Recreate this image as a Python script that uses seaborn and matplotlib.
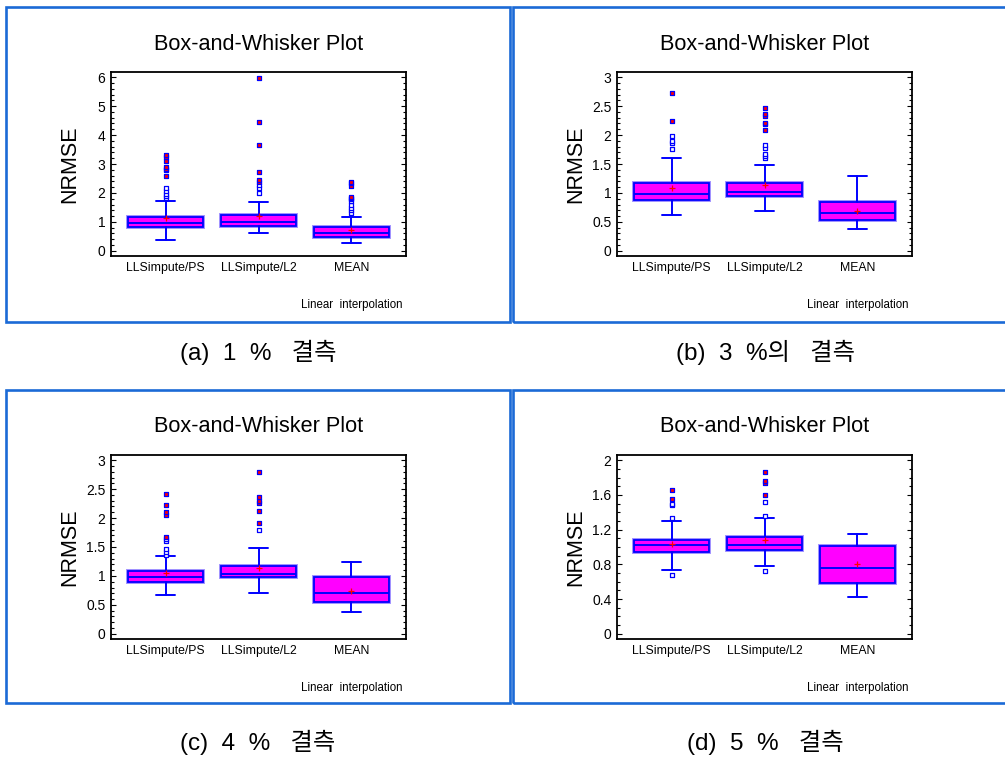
import pandas as pd
import matplotlib.pyplot as plt
import matplotlib.patheffects as pe
from matplotlib.patches import Rectangle
from matplotlib.ticker import MultipleLocator, AutoMinorLocator, FormatStrFormatter
import seaborn as sns

methods = ["LLSimpute/PS", "LLSimpute/L2", "MEAN"]
captions = ["(a)  1  %   결측", "(b)  3  %의   결측", "(c)  4  %   결측", "(d)  5  %   결측"]

# (a) 1 % missing
lo_1 = [0.39, 0.61, 0.27]
q1_1 = [0.81, 0.87, 0.46]
med_1 = [0.95, 0.99, 0.61]
q3_1 = [1.18, 1.25, 0.81]
hi_1 = [1.73, 1.70, 1.16]
mean_1 = [1.13, 1.21, 0.72]
out_1 = [[1.82, 1.90, 1.98, 2.07, 2.16], [2.00, 2.18, 2.27], [1.32, 1.41, 1.49, 1.57, 1.71]]
far_1 = [[2.57, 2.78, 2.84, 2.91, 3.09, 3.25, 3.32], [2.39, 2.45, 2.72, 3.66, 4.46, 5.98],
         [1.79, 1.82, 1.87, 2.24, 2.34, 2.38]]

# (b) 3 % missing
lo_3 = [0.61, 0.69, 0.37]
q1_3 = [0.87, 0.95, 0.54]
med_3 = [0.99, 1.02, 0.65]
q3_3 = [1.18, 1.18, 0.85]
hi_3 = [1.60, 1.48, 1.30]
mean_3 = [1.08, 1.13, 0.69]
out_3 = [[1.76, 1.86, 1.90, 1.99], [1.60, 1.63, 1.68, 1.77, 1.82], []]
far_3 = [[2.24, 2.73], [2.08, 2.19, 2.20, 2.33, 2.36, 2.47], []]

# (c) 4 % missing
lo_4 = [0.675, 0.70, 0.375]
q1_4 = [0.89, 0.975, 0.55]
med_4 = [0.98, 1.03, 0.70]
q3_4 = [1.08, 1.18, 0.975]
hi_4 = [1.34, 1.48, 1.24]
mean_4 = [1.05, 1.14, 0.74]
out_4 = [[1.37, 1.41, 1.47, 1.60, 1.64], [1.79], []]
far_4 = [[1.68, 2.06, 2.11, 2.23, 2.42], [1.92, 2.13, 2.26, 2.30, 2.37, 2.79], []]

# (d) 5 % missing
lo_5 = [0.74, 0.78, 0.42]
q1_5 = [0.94, 0.967, 0.583]
med_5 = [1.02, 1.02, 0.756]
q3_5 = [1.086, 1.117, 1.017]
hi_5 = [1.305, 1.33, 1.148]
mean_5 = [1.04, 1.075, 0.80]
out_5 = [[0.68, 1.33, 1.48, 1.50], [0.725, 1.355, 1.52], []]
far_5 = [[1.55, 1.66], [1.60, 1.735, 1.755, 1.86], []]

y_max = [6, 3, 3, 2]
y_step = [1, 0.5, 0.5, 0.4]
y_minor = [5, 5, 5, 4]

panels = [
    (lo_1, q1_1, med_1, q3_1, hi_1, mean_1, out_1, far_1),
    (lo_3, q1_3, med_3, q3_3, hi_3, mean_3, out_3, far_3),
    (lo_4, q1_4, med_4, q3_4, hi_4, mean_4, out_4, far_4),
    (lo_5, q1_5, med_5, q3_5, hi_5, mean_5, out_5, far_5),
]

sns.set_theme(style="ticks")
plt.rcParams['font.family'] = ['Liberation Sans', 'Noto Sans CJK KR']
for key in ['text.color', 'axes.labelcolor', 'xtick.color', 'ytick.color', 'axes.edgecolor']:
    plt.rcParams[key] = 'black'

W, H = 1005, 758
fig = plt.figure(figsize=(W / 100, H / 100), dpi=100)
fig.patch.set_facecolor('white')

BLUE = '#0000ff'
FRAME = '#1b6ad6'

# panel geometry in pixels: (frame x0, frame y0, frame x1, frame y1, axes left, axes top, caption gap)
geo = [
    (6, 7, 510, 322, 111, 72, 30),
    (513, 7, 1012, 322, 617, 72, 30),
    (6, 390, 510, 703, 111, 455, 39),
    (513, 390, 1012, 703, 617, 455, 39),
]
AX_W, AX_H = 295, 184


def outlier_frame(groups):
    rows = [(i, v) for i, vals in enumerate(groups) for v in vals]
    return pd.DataFrame(rows, columns=['pos', 'value'])


for k, (lo, q1, med, q3, hi, mean, out, far) in enumerate(panels):
    fx0, fy0, fx1, fy1, axl, axt, gap = geo[k]

    # blue frame around each panel
    fig.patches.append(Rectangle((fx0 / W, 1 - fy1 / H), (fx1 - fx0) / W, (fy1 - fy0) / H,
                                 transform=fig.transFigure, fill=False,
                                 edgecolor=FRAME, linewidth=1.9, zorder=0))

    ax = fig.add_axes([axl / W, 1 - (axt + AX_H) / H, AX_W / W, AX_H / H])

    stats = [dict(whislo=lo[i], q1=q1[i], med=med[i], q3=q3[i], whishi=hi[i], fliers=[])
             for i in range(len(methods))]
    bp = ax.bxp(stats, positions=range(len(methods)), widths=0.8, capwidths=0.2,
                patch_artist=True, showfliers=False, manage_ticks=False,
                boxprops=dict(facecolor='#ff00ff', edgecolor=BLUE, linewidth=1.3),
                medianprops=dict(color=BLUE, linewidth=1.4),
                whiskerprops=dict(color=BLUE, linewidth=1.4),
                capprops=dict(color=BLUE, linewidth=1.4))
    for b in bp['boxes']:
        b.set_path_effects([pe.Stroke(linewidth=2.8, foreground='#9c8cff'), pe.Normal()])

    df_out = outlier_frame(out)
    df_far = outlier_frame(far)
    df_mean = pd.DataFrame({'pos': range(len(methods)), 'value': mean})
    if len(df_out):
        sns.scatterplot(data=df_out, x='pos', y='value', marker='s', s=11, color='white',
                        edgecolor=BLUE, linewidth=0.9, zorder=5, ax=ax, legend=False)
    if len(df_far):
        sns.scatterplot(data=df_far, x='pos', y='value', marker='s', s=11, color='#ff0000',
                        edgecolor=BLUE, linewidth=0.9, zorder=6, ax=ax, legend=False)
    sns.scatterplot(data=df_mean, x='pos', y='value', marker='+', s=16, color='#ff0000',
                    linewidth=0.9, zorder=7, ax=ax, legend=False)

    pad = 0.03 * y_max[k]
    ax.set_ylim(-pad, y_max[k] + pad)
    ax.set_xlim(-0.587, 2.587)
    ax.yaxis.set_major_locator(MultipleLocator(y_step[k]))
    ax.yaxis.set_minor_locator(AutoMinorLocator(y_minor[k]))
    ax.yaxis.set_major_formatter(FormatStrFormatter('%g'))
    ax.set_xticks(range(len(methods)))
    ax.set_xticklabels(methods, fontsize=8.8)
    ax.set_xlabel('')
    ax.set_ylabel('')
    ax.tick_params(axis='x', length=0, pad=4)
    ax.tick_params(axis='y', which='both', direction='in', left=True, right=True,
                   labelsize=10, pad=4, color='black', width=0.8)
    ax.tick_params(axis='y', which='major', length=3.6)
    ax.tick_params(axis='y', which='minor', length=2.0)
    for s in ax.spines.values():
        s.set_visible(True)
        s.set_color('black')
        s.set_linewidth(1.3)

    cx = axl + AX_W / 2
    fig.text(cx / W, 1 - (axt - 28) / H, 'Box-and-Whisker Plot', ha='center', va='center',
             fontsize=15.6)
    fig.text((axl - 41) / W, 1 - (axt + AX_H / 2) / H, 'NRMSE', rotation=90,
             ha='center', va='center', fontsize=15.5)
    fig.text((axl + AX_W - 4) / W, 1 - (axt + 233) / H, 'Linear  interpolation',
             ha='right', va='center', fontsize=8.3)
    fig.text(((fx0 + fx1) / 2 if k % 2 == 0 else 765) / W, 1 - (fy1 + gap) / H, captions[k],
             ha='center', va='center', fontsize=17.5, fontweight='medium')

fig.savefig('out.png', dpi=100, facecolor='white')
